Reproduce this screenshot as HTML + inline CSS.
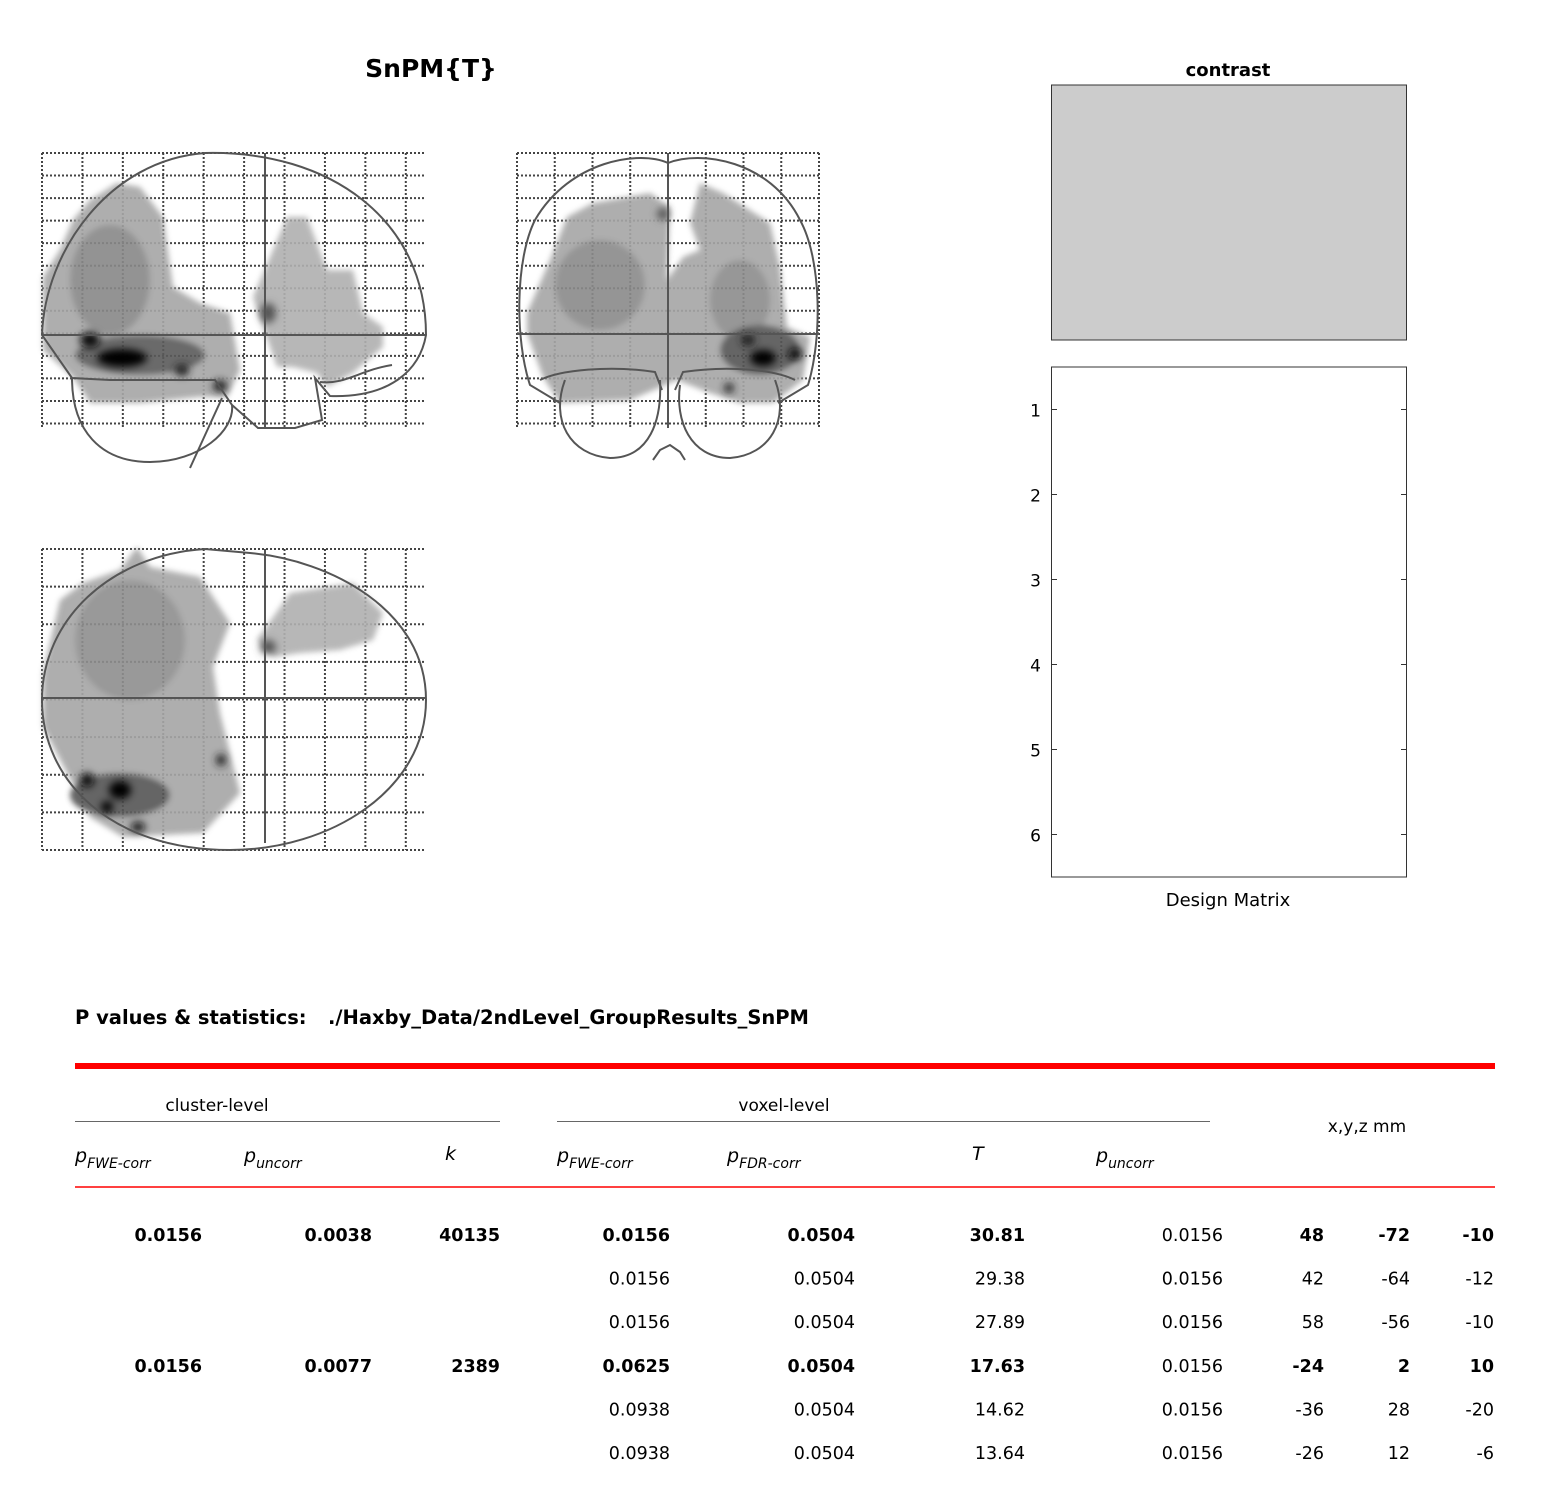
<!DOCTYPE html>
<html><head><meta charset="utf-8"><style>
html,body{margin:0;padding:0;background:#fff;}
svg text{font-family:"DejaVu Sans","Liberation Sans",sans-serif;}
</style></head><body>
<svg width="1552" height="1506" viewBox="0 0 1552 1506" xmlns="http://www.w3.org/2000/svg">
<defs>
<filter id="bl" x="-20%" y="-20%" width="140%" height="140%"><feGaussianBlur stdDeviation="3"/></filter>
<filter id="bl2" x="-50%" y="-50%" width="200%" height="200%"><feGaussianBlur stdDeviation="4"/></filter>
</defs>

<text x="431" y="77" font-size="25" font-weight="bold" text-anchor="middle">SnPM{T}</text>

<g id="gridS"></g>
<g id="gridC"></g>
<g id="gridA"></g>

<!-- Sagittal -->
<g>
<g filter="url(#bl)" opacity="0.9">
<polygon fill="#a6a6a6" points="43,277 60,250 73,220 90,200 117,183 140,187 163,217 173,287 200,303 230,313 240,370 227,397 200,397 140,403 90,403 73,377 43,350"/>
<polygon fill="#b0b0b0" points="253,297 287,217 307,217 327,270 353,270 363,313 383,327 383,347 353,373 327,387 317,373 293,367 277,367 263,327"/>
<ellipse cx="110" cy="280" rx="40" ry="55" fill="#888"/>
<ellipse cx="140" cy="355" rx="65" ry="20" fill="#5a5a5a"/>
</g>
<g filter="url(#bl2)">
<ellipse cx="90" cy="340" rx="10" ry="8" fill="#111"/>
<ellipse cx="122" cy="358" rx="25" ry="9" fill="#000"/>
<ellipse cx="182" cy="370" rx="7" ry="6" fill="#222"/>
<ellipse cx="220" cy="386" rx="7" ry="6" fill="#222"/>
<ellipse cx="268" cy="313" rx="8" ry="10" fill="#555"/>
</g>
<path d="M42,335 C45,250 110,160 205,153 C330,150 426,220 426,335 C420,370 390,398 330,396 L315,378 L322,420 L295,428 L258,428 L232,405 L215,380 L110,380 L72,378 Z" fill="none" stroke="#555" stroke-width="2"/>
<path d="M72,378 C72,430 100,462 150,462 C200,462 235,430 232,405" fill="none" stroke="#555" stroke-width="2"/>
<path d="M222,398 L190,468" stroke="#555" stroke-width="2"/>
<path d="M320,382 C345,385 360,370 392,365" fill="none" stroke="#555" stroke-width="2"/>
<line x1="265" y1="153" x2="265" y2="428" stroke="#555" stroke-width="2"/>
<line x1="42" y1="335" x2="426" y2="335" stroke="#555" stroke-width="2"/>
</g>

<!-- Coronal -->
<g>
<g filter="url(#bl)" opacity="0.9">
<polygon fill="#a6a6a6" points="527,313 550,260 567,217 593,203 650,193 670,207 667,280 683,257 700,250 690,223 700,183 723,193 770,223 780,267 787,327 810,337 803,380 773,403 740,403 710,393 677,380 630,400 560,403 543,377 527,333"/>
<ellipse cx="600" cy="285" rx="45" ry="45" fill="#8a8a8a"/>
<ellipse cx="740" cy="300" rx="30" ry="40" fill="#8c8c8c"/>
<ellipse cx="760" cy="350" rx="40" ry="25" fill="#555"/>
</g>
<g filter="url(#bl2)">
<ellipse cx="763" cy="358" rx="13" ry="8" fill="#000"/>
<ellipse cx="795" cy="354" rx="7" ry="6" fill="#111"/>
<ellipse cx="748" cy="340" rx="7" ry="6" fill="#222"/>
<ellipse cx="729" cy="388" rx="5" ry="5" fill="#222"/>
<ellipse cx="663" cy="214" rx="6" ry="6" fill="#555"/>
</g>
<path d="M668,163 C640,150 570,160 535,220 C515,260 515,340 530,385 L560,403" fill="none" stroke="#555" stroke-width="2"/>
<path d="M668,163 C700,150 770,160 800,220 C822,260 822,340 808,385 L778,403" fill="none" stroke="#555" stroke-width="2"/>
<path d="M540,380 C560,370 610,365 655,372 L662,390" fill="none" stroke="#555" stroke-width="2"/>
<path d="M795,380 C775,370 730,365 683,372 L675,390" fill="none" stroke="#555" stroke-width="2"/>
<path d="M565,380 C550,420 570,455 610,458 C650,458 662,420 660,380" fill="none" stroke="#555" stroke-width="2"/>
<path d="M775,380 C790,420 770,455 730,458 C690,458 675,420 680,385" fill="none" stroke="#555" stroke-width="2"/>
<path d="M653,460 L660,450 L670,445 L680,452 L685,460" fill="none" stroke="#555" stroke-width="2"/>
<line x1="668" y1="153" x2="668" y2="428" stroke="#555" stroke-width="2"/>
<line x1="517" y1="334" x2="819" y2="334" stroke="#555" stroke-width="2"/>
</g>

<!-- Axial -->
<g>
<g filter="url(#bl)" opacity="0.9">
<polygon fill="#a6a6a6" points="43,673 60,600 83,583 120,570 137,547 150,567 200,577 230,623 213,667 220,713 240,793 203,833 123,837 90,817 67,773 43,727"/>
<polygon fill="#b0b0b0" points="257,640 290,593 353,583 383,613 373,640 340,650 300,653 273,657"/>
<ellipse cx="130" cy="640" rx="55" ry="60" fill="#8e8e8e"/>
<ellipse cx="120" cy="795" rx="50" ry="22" fill="#555"/>
</g>
<g filter="url(#bl2)">
<ellipse cx="120" cy="790" rx="11" ry="9" fill="#000"/>
<ellipse cx="107" cy="807" rx="6" ry="6" fill="#000"/>
<ellipse cx="87" cy="780" rx="7" ry="7" fill="#111"/>
<ellipse cx="138" cy="827" rx="7" ry="5" fill="#111"/>
<ellipse cx="221" cy="760" rx="5" ry="6" fill="#222"/>
<ellipse cx="268" cy="647" rx="8" ry="7" fill="#555"/>
</g>
<path d="M205,549 C110,555 42,620 42,700 C42,780 110,850 230,850 C330,850 426,790 426,700 C426,610 330,560 250,553 Z" fill="none" stroke="#555" stroke-width="2"/>
<line x1="265" y1="549" x2="265" y2="843" stroke="#555" stroke-width="2"/>
<line x1="42" y1="698" x2="426" y2="698" stroke="#555" stroke-width="2"/>
</g>

<!-- Contrast -->
<text x="1228" y="76" font-size="18" font-weight="bold" text-anchor="middle">contrast</text>
<rect x="1051.5" y="85" width="355" height="255" fill="#cccccc" stroke="#333" stroke-width="1"/>

<!-- Design matrix -->
<g>
<rect x="1051.5" y="367" width="355" height="510" fill="#fff" stroke="#333" stroke-width="1"/>
<g id="dmTicks"></g>
<text x="1228" y="906" font-size="18" text-anchor="middle">Design Matrix</text>
</g>

<!-- Table -->
<text x="75" y="1024" font-size="19.5" font-weight="bold">P values &amp; statistics:</text>
<text x="328" y="1024" font-size="19.5" font-weight="bold">./Haxby_Data/2ndLevel_GroupResults_SnPM</text>
<rect x="75" y="1063" width="1420" height="6" fill="#f00"/>
<text x="217" y="1111" font-size="17" text-anchor="middle">cluster-level</text>
<line x1="75" y1="1121.5" x2="500" y2="1121.5" stroke="#666" stroke-width="1"/>
<text x="784" y="1111" font-size="17" text-anchor="middle">voxel-level</text>
<line x1="557" y1="1121.5" x2="1210" y2="1121.5" stroke="#666" stroke-width="1"/>
<text x="1367" y="1132" font-size="17" text-anchor="middle">x,y,z mm</text>
<g font-size="19" font-style="italic">
<text x="75" y="1162">p<tspan font-size="14" dy="6">FWE-corr</tspan></text>
<text x="244" y="1162">p<tspan font-size="14" dy="6">uncorr</tspan></text>
<text x="445" y="1160">k</text>
<text x="557" y="1162">p<tspan font-size="14" dy="6">FWE-corr</tspan></text>
<text x="727" y="1162">p<tspan font-size="14" dy="6">FDR-corr</tspan></text>
<text x="972" y="1160">T</text>
<text x="1096" y="1162">p<tspan font-size="14" dy="6">uncorr</tspan></text>
</g>
<line x1="75" y1="1187" x2="1495" y2="1187" stroke="#f00" stroke-width="1.5"/>
<g id="tableRows"></g>
</svg>
<script>
const designRows = [1, 2, 3, 4, 5, 6];
const clusterPFWE = ["0.0156", "", "", "0.0156", "", ""];
const clusterPUnc = ["0.0038", "", "", "0.0077", "", ""];
const clusterK = ["40135", "", "", "2389", "", ""];
const voxelPFWE = ["0.0156", "0.0156", "0.0156", "0.0625", "0.0938", "0.0938"];
const voxelPFDR = ["0.0504", "0.0504", "0.0504", "0.0504", "0.0504", "0.0504"];
const voxelT = ["30.81", "29.38", "27.89", "17.63", "14.62", "13.64"];
const voxelPUnc = ["0.0156", "0.0156", "0.0156", "0.0156", "0.0156", "0.0156"];
const coordX = [48, 42, 58, -24, -36, -26];
const coordY = [-72, -64, -56, 2, 28, 12];
const coordZ = [-10, -12, -10, 10, -20, -6];
const boldRow = [true, false, false, true, false, false];

const NS = "http://www.w3.org/2000/svg";

function grid(id, x0, y0, w, h, nx, ny) {
  const g = document.getElementById(id);
  for (let i = 0; i <= nx; i++) {
    const x = x0 + w * i / nx;
    const l = document.createElementNS(NS, "line");
    l.setAttribute("x1", x); l.setAttribute("x2", x);
    l.setAttribute("y1", y0); l.setAttribute("y2", y0 + h);
    l.setAttribute("stroke", "#444"); l.setAttribute("stroke-width", "2");
    l.setAttribute("stroke-dasharray", "2,2");
    
    
    g.appendChild(l);
  }
  for (let j = 0; j <= ny; j++) {
    const y = y0 + h * j / ny;
    const l = document.createElementNS(NS, "line");
    l.setAttribute("x1", x0); l.setAttribute("x2", x0 + w);
    l.setAttribute("y1", y); l.setAttribute("y2", y);
    l.setAttribute("stroke", "#444"); l.setAttribute("stroke-width", "2");
    l.setAttribute("stroke-dasharray", "2,2");
    
    
    g.appendChild(l);
  }
}
grid("gridS", 42, 153, 384, 275, 9.5, 12.2);
grid("gridC", 517, 153, 302, 275, 8, 12.2);
grid("gridA", 42, 549, 384, 301, 9.5, 8);

const dm = document.getElementById("dmTicks");
const dmY = i => 367 + (i - 0.5) * 85;
designRows.forEach(r => {
  const t = document.createElementNS(NS, "text");
  t.setAttribute("x", 1041); t.setAttribute("y", dmY(r) + 7);
  t.setAttribute("font-size", "17"); t.setAttribute("text-anchor", "end");
  t.textContent = r;
  
  
  dm.appendChild(t);
  [[1052, 1057], [1401, 1406]].forEach(([a, b]) => {
    const l = document.createElementNS(NS, "line");
    l.setAttribute("x1", a); l.setAttribute("x2", b);
    l.setAttribute("y1", dmY(r)); l.setAttribute("y2", dmY(r));
    l.setAttribute("stroke", "#333");
    
    
    dm.appendChild(l);
  });
});

const tb = document.getElementById("tableRows");
const colRight = [202, 372, 500, 670, 855, 1025, 1223, 1324, 1410, 1494];
const rowY = i => 1241 + i * 43.6;
for (let i = 0; i < voxelT.length; i++) {
  const vals = [clusterPFWE[i], clusterPUnc[i], clusterK[i], voxelPFWE[i], voxelPFDR[i], voxelT[i], voxelPUnc[i], coordX[i], coordY[i], coordZ[i]];
  vals.forEach((v, j) => {
    if (v === "") return;
    const t = document.createElementNS(NS, "text");
    t.setAttribute("x", colRight[j]); t.setAttribute("y", rowY(i));
    t.setAttribute("font-size", "17.5"); t.setAttribute("text-anchor", "end");
    if (boldRow[i] && j !== 6) t.setAttribute("font-weight", "bold");
    t.textContent = v;
    
    
    tb.appendChild(t);
  });
}
</script>
</body></html>
